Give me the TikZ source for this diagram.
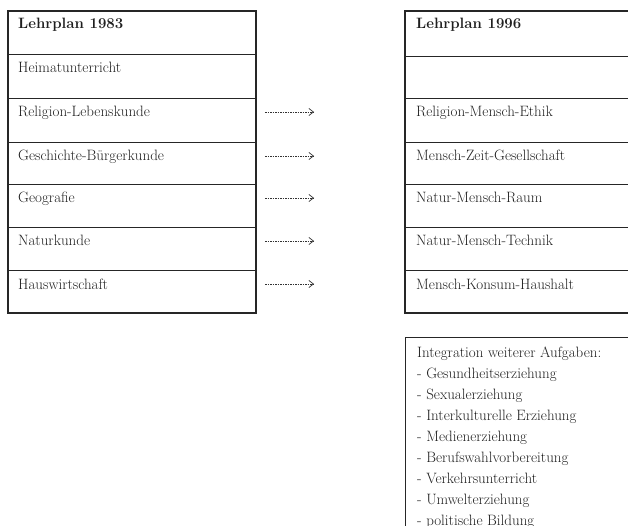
\documentclass[tikz,border=0pt]{standalone}
\usetikzlibrary{arrows.meta}
\begin{document}
\begin{tikzpicture}[x=1pt,y=-1pt,
  cell/.style={draw=black!85, line width=0.9pt, inner sep=0pt, anchor=north west, minimum width=#1},
  frame/.style={draw=black!85, line width=1.6pt, inner sep=0pt, anchor=north west, minimum width=#1},
  txt/.style={inner sep=0pt, anchor=base west, text=black!88, font=\fontsize{15}{21}\selectfont},
  conn/.style={draw=black!80, line width=0.6pt, dash pattern=on 1.6pt off 0.9pt, -{Straight Barb[length=4.5pt,width=7pt,line width=0.7pt]}}
]
\useasboundingbox (0,0) rectangle (628,526);
\clip (0,0) rectangle (628,526);

% left table
\node[cell=248, minimum height=44] (L0) at (7,10) {};
\node[cell=248, minimum height=44] (L1) at (7,54) {};
\node[cell=248, minimum height=44] (L2) at (7,98) {};
\node[cell=248, minimum height=42] (L3) at (7,142) {};
\node[cell=248, minimum height=43] (L4) at (7,184) {};
\node[cell=248, minimum height=43] (L5) at (7,227) {};
\node[cell=248, minimum height=42] (L6) at (7,270) {};
\node[frame=248, minimum height=302] (LF) at (7,10) {};

\node[txt] (lt0) at (18,29) {\bfseries Lehrplan 1983};
\node[txt] (lt1) at (18,73) {Heimatunterricht};
\node[txt] (lt2) at (18,117) {Religion-Lebenskunde};
\node[txt] (lt3) at (18,161) {Geschichte-B\"urgerkunde};
\node[txt] (lt4) at (18,203) {Geografie};
\node[txt] (lt5) at (18,246) {Naturkunde};
\node[txt] (lt6) at (18,289) {Hauswirtschaft};

% right table
\node[cell=240, minimum height=46] (R0) at (404,10) {};
\node[cell=240, minimum height=42] (R1) at (404,56) {};
\node[cell=240, minimum height=44] (R2) at (404,98) {};
\node[cell=240, minimum height=42] (R3) at (404,142) {};
\node[cell=240, minimum height=43] (R4) at (404,184) {};
\node[cell=240, minimum height=43] (R5) at (404,227) {};
\node[cell=240, minimum height=42] (R6) at (404,270) {};
\node[frame=240, minimum height=302] (RF) at (404,10) {};

\node[txt] (rt0) at (416,29) {\bfseries Lehrplan 1996};
\node[txt] (rt2) at (416,117) {Religion-Mensch-Ethik};
\node[txt] (rt3) at (416,161) {Mensch-Zeit-Gesellschaft};
\node[txt] (rt4) at (416,203) {Natur-Mensch-Raum};
\node[txt] (rt5) at (416,246) {Natur-Mensch-Technik};
\node[txt] (rt6) at (416,289) {Mensch-Konsum-Haushalt};

% arrows
\coordinate (a2) at (265,112); \coordinate (b2) at (314,112);
\coordinate (a3) at (265,156); \coordinate (b3) at (314,156);
\coordinate (a4) at (265,198); \coordinate (b4) at (314,198);
\coordinate (a5) at (265,241); \coordinate (b5) at (314,241);
\coordinate (a6) at (265,284); \coordinate (b6) at (314,284);
\draw[conn] (a2) -- (b2);
\draw[conn] (a3) -- (b3);
\draw[conn] (a4) -- (b4);
\draw[conn] (a5) -- (b5);
\draw[conn] (a6) -- (b6);

% lower box
\node[cell=240, minimum height=220, line width=1.1pt] (IB) at (405,337) {};
\node[txt] (i0) at (417,357) {Integration weiterer Aufgaben:};
\node[txt] (i1) at (417,378) {- Gesundheitserziehung};
\node[txt] (i2) at (417,399) {- Sexualerziehung};
\node[txt] (i3) at (417,420) {- Interkulturelle Erziehung};
\node[txt] (i4) at (417,441) {- Medienerziehung};
\node[txt] (i5) at (417,462) {- Berufswahlvorbereitung};
\node[txt] (i6) at (417,483) {- Verkehrsunterricht};
\node[txt] (i7) at (417,504) {- Umwelterziehung};
\node[txt] (i8) at (417,525) {- politische Bildung};
\end{tikzpicture}
\end{document}
